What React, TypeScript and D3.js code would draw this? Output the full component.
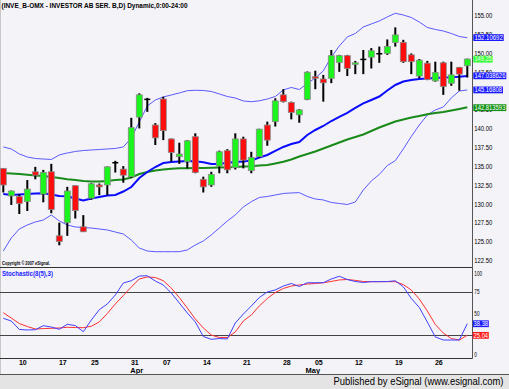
import React from 'react';
import * as d3 from 'd3';

const W = 509;
const H = 389;

// ---- OHLC (one per trading day, index 0..58) ----
const opens = [134.75,131.1,131.0,130.35,134.3,131.35,134.3,125.8,127.55,132.45,127.0,130.8,132.55,132.55,135.5,134.65,133.65,141.55,143.9,140.5,143.95,138.65,136.3,135.65,138.95,133.3,132.55,135.05,137.1,134.85,138.65,134.45,136.3,140.5,140.95,144.5,143.5,141.85,143.9,146.9,146.6,146.7,148.8,149.7,148.6,149.2,149.5,149.9,150.0,151.45,151.45,149.8,147.0,148.7,146.35,148.75,146.05,148.15,148.35];
const highs = [134.8,131.8,131.3,133.2,134.95,134.55,135.35,127.55,132.3,132.5,128.55,132.8,132.75,135.0,135.75,135.05,141.45,144.7,144.1,140.75,144.25,138.7,138.15,138.5,139.4,133.65,134.3,137.1,137.3,139.4,138.95,136.95,140.0,140.95,144.05,145.25,143.6,142.6,147.6,147.7,147.15,150.45,149.8,149.8,149.0,150.45,150.7,150.9,151.85,153.45,151.8,150.0,149.25,149.0,148.9,148.9,148.9,148.2,149.3];
const lows = [131.55,129.9,128.7,129.1,133.3,130.25,128.8,124.55,125.8,128.1,126.3,130.6,131.2,131.2,134.2,132.85,133.5,140.05,142.25,137.85,138.5,135.65,135.35,134.75,134.1,131.55,132.3,134.1,134.1,134.6,134.75,134.1,136.2,137.75,140.3,143.5,141.25,140.8,143.8,145.25,143.6,146.05,147.55,147.0,147.25,147.25,148.0,148.75,149.8,150.9,148.75,147.25,146.7,146.45,146.25,144.5,145.7,145.05,146.8];
const closes = [132.55,131.75,130.1,132.0,133.85,134.2,129.3,125.05,131.75,129.15,126.35,132.7,132.3,134.95,135.5,133.85,140.15,144.5,143.9,138.8,139.75,136.85,136.65,138.4,134.2,132.3,133.95,136.95,134.55,138.65,135.85,136.2,139.95,138.5,143.7,143.6,142.15,142.5,147.5,146.7,146.1,149.7,149.7,148.0,148.75,149.2,150.35,149.95,150.9,152.45,148.9,148.9,149.1,146.55,147.45,145.6,147.15,147.25,149.25];

// ---- Overlays ----
const upperBand = [137.59,137.32,136.66,136.26,136.06,135.99,135.93,136.53,136.79,136.99,137.12,137.19,137.25,137.32,137.39,137.59,138.78,140.9,143.02,143.82,144.22,144.48,144.75,145.05,145.11,145.08,144.95,144.62,144.28,144.08,143.69,143.59,143.71,143.95,144.28,145.15,145.48,145.21,146.01,146.74,147.67,149.52,150.98,152.18,152.64,153.5,153.9,154.3,154.83,155.32,155.09,154.76,154.16,153.44,153.17,152.97,152.64,152.24,152.07];
const lowerBand = [123.79,125.52,126.71,127.24,127.64,127.9,128.57,127.77,127.24,126.98,126.91,126.84,126.71,126.58,126.31,126.05,125.25,124.19,123.79,123.7,123.7,123.7,123.7,123.93,124.59,125.12,125.92,126.84,127.77,128.57,129.63,130.33,130.89,131.02,131.22,131.42,131.49,131.53,131.02,130.69,130.56,130.23,130.09,129.96,130.29,131.88,133.08,133.94,135.13,135.77,137.32,138.98,140.5,141.83,142.49,142.89,144.09,145.01,145.15];
const midAverage = [131.35,131.22,131.29,131.35,131.42,131.45,131.29,131.09,131.05,130.76,130.49,130.76,130.96,131.15,131.22,131.68,132.28,133.47,134.27,134.93,135.46,135.6,135.66,135.73,135.69,135.56,135.33,135.33,135.49,135.6,135.66,135.8,136.19,136.53,137.06,137.59,137.98,138.25,139.18,139.84,140.37,141.03,141.57,142.1,142.76,143.36,143.82,144.28,145.08,145.81,146.27,146.47,146.6,146.67,146.74,146.8,146.83,146.9,147.0];
const longAverage = [134.14,134.07,134.0,133.9,133.81,133.74,133.61,133.47,133.3,133.21,133.08,133.01,133.01,133.08,133.21,133.28,133.54,134.0,134.27,134.47,134.6,134.69,134.75,134.78,134.8,134.81,134.84,134.88,134.91,134.93,134.99,135.03,135.13,135.2,135.4,135.62,135.93,136.33,136.66,136.99,137.39,137.79,138.18,138.58,138.91,139.24,139.71,140.17,140.57,140.97,141.23,141.5,141.7,141.92,142.1,142.23,142.43,142.63,142.85];

// ---- Stochastic ----
const stochK = [44.5,41.4,31.7,31.1,31.4,36.0,34.5,31.9,37.6,36.2,29.1,42.5,54.4,60.9,71.2,85.0,87.6,93.0,93.3,87.3,82.7,73.5,62.0,50.6,40.3,23.6,20.4,21.3,20.8,39.1,49.4,58.6,68.3,74.7,77.0,81.5,84.4,81.0,85.3,85.3,85.3,89.6,92.7,89.0,86.7,85.6,86.5,86.5,86.7,87.5,80.7,67.2,56.9,40.3,23.1,19.6,19.6,19.6,38.38];
const stochD = [50.9,44.8,38.5,35.1,32.2,32.7,33.0,33.4,34.2,33.9,33.7,35.4,40.3,50.0,60.9,70.6,80.4,89.6,91.9,91.3,87.6,79.2,68.3,56.3,43.7,33.4,25.3,22.5,22.5,28.8,41.4,48.3,58.6,67.2,74.1,78.7,81.5,82.7,83.8,84.4,85.3,86.8,88.5,89.0,88.0,86.7,86.5,86.5,86.5,86.5,83.2,77.0,66.6,52.9,37.4,27.6,21.3,19.6,25.04];

// ---- Axis ticks ----
const priceTicks = [155, 152.5, 150, 147.5, 145, 142.5, 140, 137.5, 135, 132.5, 130, 127.5, 125, 122.5];
const stochTicks = [100, 75, 50, 25, 0];
const stochLevels = [75, 25];
const dayTickIndex = [2, 7, 11, 16, 20, 25, 30, 35, 39, 44, 49, 54];
const dayTickLabels = ['10', '17', '25', '31', '07', '14', '21', '28', '05', '12', '19', '26'];
const monthTickIndex = [17, 39];
const monthTickLabels = ['Apr', 'May'];

// last-value flags
const priceFlagValues = [152.10692, 149.25, 147.038626, 145.16808, 142.813593];
const priceFlagTexts = ['152.10692', '149.25', '147.038626', '145.16808', '142.813593'];
const stochFlagValues = [38.38, 25.04];
const stochFlagTexts = ['38.38', '25.04'];

const BG = '#f4f3f8';
const FONT = '"Liberation Sans", Arial, sans-serif';
const GREEN = '#1cf51c';
const RED = '#ff0d0d';

export default function App() {
  const n = closes.length;
  const x = d3.scaleLinear().domain([0, n - 1]).range([3.3, 467.3]);
  const yP = d3.scaleLinear().domain([121.63, 157.08]).range([267.3, 0]);
  const yS = d3.scaleLinear().domain([-1.38, 103]).range([358.3, 267.3]);
  const axisX = 472.5;

  const lineP = d3.line<number>().x((_, i) => x(i)).y((d) => yP(d));
  const lineS = d3.line<number>().x((_, i) => x(i)).y((d) => yS(d));

  const flagColors = ['#1a1aff', '#33ff33', '#1a1aff', '#1a1aff', '#109010'];
  const flagWidths = [28.4, 17.3, 31, 27.7, 31];
  const stochFlagColors = ['#1a1aff', '#ff1a1a'];

  return (
    <svg
      width={W}
      height={H}
      style={{ position: 'absolute', left: 0, top: 0, display: 'block' }}
      fontFamily={FONT}
    >
      <rect x={0} y={0} width={W} height={H} fill={BG} />
      <line x1={0.5} y1={0} x2={0.5} y2={374.5} stroke="#c8c8c8" />

      {/* Title */}
      <text x={1.5} y={7.8} fontSize={7} fontWeight="bold" fill="#000" textLength={186} lengthAdjust="spacingAndGlyphs">
        (INVE_B-OMX - INVESTOR AB SER. B,D) Dynamic,0:00-24:00
      </text>

      {/* Bollinger bands */}
      <path d={lineP(upperBand) || ''} fill="none" stroke="#5a5aff" strokeWidth={1} />
      <path d={lineP(lowerBand) || ''} fill="none" stroke="#5a5aff" strokeWidth={1} />
      <path d={lineP(longAverage) || ''} fill="none" stroke="#1a8a1a" strokeWidth={2} />
      <path d={lineP(midAverage) || ''} fill="none" stroke="#0a0aff" strokeWidth={2} />

      {/* Candles */}
      {closes.map((c, i) => {
        const o = opens[i];
        const cx = x(i);
        const top = yP(Math.max(o, c));
        const bot = yP(Math.min(o, c));
        const doji = Math.abs(o - c) < 0.08;
        return (
          <g key={i}>
            <rect x={cx - 1} y={yP(highs[i])} width={2} height={yP(lows[i]) - yP(highs[i])} fill="#000" />
            {doji ? (
              <rect x={cx - 3} y={top - 0.75} width={6} height={1.5} fill="#000" />
            ) : (
              <rect
                x={cx - 3}
                y={top}
                width={6}
                height={Math.max(1.5, bot - top)}
                fill={c > o ? GREEN : RED}
                stroke="#8a8a8a"
                strokeWidth={0.8}
              />
            )}
          </g>
        );
      })}

      <text x={2} y={264.8} fontSize={4.8} fontWeight="bold" fill="#000" textLength={48} lengthAdjust="spacingAndGlyphs">
        Copyright © 2007 eSignal.
      </text>

      {/* Panel borders */}
      <line x1={0} y1={267.5} x2={axisX} y2={267.5} stroke="#333" />
      <line x1={0} y1={358.5} x2={axisX} y2={358.5} stroke="#333" />
      <line x1={axisX} y1={0} x2={axisX} y2={358.5} stroke="#555" />

      {/* Stochastic panel */}
      {stochLevels.map((v) => (
        <line key={v} x1={0} x2={axisX} y1={Math.round(yS(v)) + 0.5} y2={Math.round(yS(v)) + 0.5} stroke="#444" />
      ))}
      <path d={lineS(stochD) || ''} fill="none" stroke="#ff3030" strokeWidth={1} />
      <path d={lineS(stochK) || ''} fill="none" stroke="#4040ff" strokeWidth={1} />
      <text x={2} y={276.4} fontSize={8} fontWeight="bold" fill="#2222ff" textLength={51} lengthAdjust="spacingAndGlyphs">
        Stochastic(8(5),3)
      </text>

      {/* Price axis labels */}
      {priceTicks.map((v) => (
        <text key={v} x={474.3} y={yP(v) + 2.4} fontSize={7} fill="#000" textLength={18} lengthAdjust="spacingAndGlyphs">
          {v.toFixed(2)}
        </text>
      ))}
      {priceFlagValues.map((v, i) => {
        const cy = yP(v);
        return (
          <g key={i}>
            <rect x={473.3} y={cy - 3.3} width={flagWidths[i] + 2} height={6.8} fill={flagColors[i]} />
            <text x={474.4} y={cy + 2.4} fontSize={7} fill="#fff" textLength={flagWidths[i]} lengthAdjust="spacingAndGlyphs">
              {priceFlagTexts[i]}
            </text>
          </g>
        );
      })}

      {/* Stochastic axis labels */}
      {stochTicks.map((v) => {
        const cy = Math.min(Math.max(yS(v), 273.3), 354.3);
        const s = String(v);
        return (
          <text key={v} x={474.3} y={cy + 2.4} fontSize={7} fill="#000" textLength={s.length * 2.6} lengthAdjust="spacingAndGlyphs">
            {s}
          </text>
        );
      })}
      {stochFlagValues.map((v, i) => {
        const cy = yS(v);
        return (
          <g key={i}>
            <rect x={472.8} y={cy - 3.3} width={16} height={6.8} fill={stochFlagColors[i]} />
            <text x={473.6} y={cy + 2.4} fontSize={7} fill="#fff" textLength={14.5} lengthAdjust="spacingAndGlyphs">
              {stochFlagTexts[i]}
            </text>
          </g>
        );
      })}

      {/* Date axis */}
      {dayTickIndex.map((idx, i) => (
        <text key={idx} x={x(idx) + 3.5} y={365.2} fontSize={7} fontWeight="bold" fill="#000" textAnchor="middle">
          {dayTickLabels[i]}
        </text>
      ))}
      {monthTickIndex.map((idx, i) => (
        <text key={idx} x={x(idx) - 2.5} y={372.6} fontSize={7.5} fontWeight="bold" fill="#000" textAnchor="middle">
          {monthTickLabels[i]}
        </text>
      ))}

      {/* Footer */}
      <rect x={0} y={375} width={W} height={14} fill="#e4e4e4" />
      <line x1={0} y1={374.5} x2={W} y2={374.5} stroke="#555" />
      <text x={333.5} y={385.3} fontSize={11} fill="#000" textLength={170} lengthAdjust="spacingAndGlyphs">
        Published by eSignal (www.esignal.com)
      </text>
    </svg>
  );
}
